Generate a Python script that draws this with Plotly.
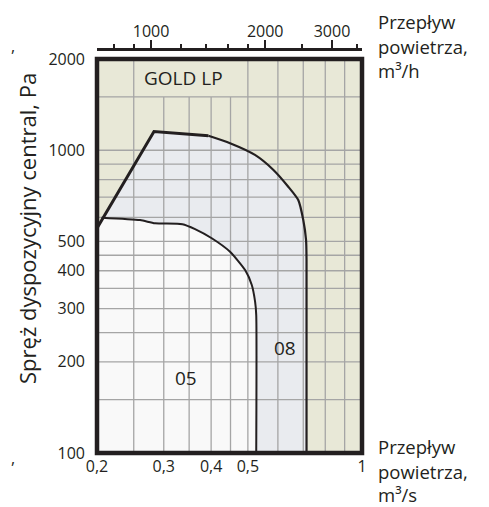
import numpy as np
import plotly.graph_objects as go

# ---------------- data ----------------
# GOLD LP 08 working envelope (air flow m3/s, available pressure Pa)
flow_08 = [0.2, 0.2827, 0.3934, 0.4487, 0.522, 0.584, 0.639, 0.679, 0.700, 0.712, 0.714, 0.714]
pres_08 = [553, 1153, 1116, 1055, 965, 861, 758, 685, 588, 505, 434, 100]
# GOLD LP 05 working envelope
flow_05 = [0.2057, 0.2598, 0.2845, 0.336, 0.3628, 0.4015, 0.4487, 0.4917, 0.512, 0.5224, 0.526, 0.526]
pres_05 = [599, 588, 574, 570, 549, 512, 462, 402, 359, 316, 286, 100]

# axes / ticks
x_ticks = [0.2, 0.3, 0.4, 0.5, 1.0]
x_ticktext = ["0,2", "0,3", "0,4", "0,5", "1"]
y_ticks = [100, 200, 300, 400, 500, 1000, 2000]
top_ticks = [1000, 2000, 3000]                       # m3/h
top_minor = [800, 900, 1200, 1400, 1600, 1800, 2500, 3500]
grid_x_full = [0.25, 0.5, 0.6, 0.7, 0.8, 0.9]
grid_x_short = [0.3, 0.35, 0.4, 0.45]               # stop at 1500 Pa (title space)
grid_y = [150, 200, 250, 300, 350, 400, 450, 500, 600, 700, 800, 900, 1000, 1500]

# ---------------- style ----------------
FONT = "Open Sans"
TXT = "#231f20"
BEIGE = "#e8e8d7"
LIGHT = "#e9ebef"
WHITE = "#f9f9f9"
GRID = "#a5a5a5"

x_min, x_max = x_ticks[0], x_ticks[-1]
y_min, y_max = y_ticks[0], y_ticks[-1]

fig = go.Figure()

# 08 fill
fig.add_trace(go.Scatter(x=[x_min] + flow_08, y=[y_min] + pres_08, fill="toself",
                         fillcolor=LIGHT, line=dict(width=0), mode="lines",
                         hoverinfo="skip", showlegend=False))
# 05 fill
fig.add_trace(go.Scatter(x=[x_min, x_min] + flow_05, y=[y_min, pres_08[0]] + pres_05, fill="toself",
                         fillcolor=WHITE, line=dict(width=0), mode="lines",
                         hoverinfo="skip", showlegend=False))

# grid lines as traces (so they sit above the fills)
gx, gy = [], []
for v in grid_x_full:
    gx += [v, v, None]; gy += [y_min, y_max, None]
for v in grid_x_short:
    gx += [v, v, None]; gy += [y_min, grid_y[-1], None]
for v in grid_y:
    gx += [x_min, x_max, None]; gy += [v, v, None]
fig.add_trace(go.Scatter(x=gx, y=gy, mode="lines", line=dict(color=GRID, width=1.3),
                         hoverinfo="skip", showlegend=False))

# outlines
fig.add_trace(go.Scatter(x=flow_08[:3], y=pres_08[:3], mode="lines",
                         line=dict(color=TXT, width=3), hoverinfo="skip", showlegend=False))
fig.add_trace(go.Scatter(x=flow_08[2:], y=pres_08[2:], mode="lines",
                         line=dict(color=TXT, width=2.2, shape="spline", smoothing=0.6),
                         hoverinfo="skip", showlegend=False))
fig.add_trace(go.Scatter(x=flow_05, y=pres_05, mode="lines",
                         line=dict(color=TXT, width=2, shape="spline", smoothing=0.6),
                         hoverinfo="skip", showlegend=False))

# invisible trace to activate top axis (m3/h)
fig.add_trace(go.Scatter(x=top_ticks, y=[y_min] * len(top_ticks), xaxis="x2", yaxis="y",
                         mode="markers", marker=dict(opacity=0), hoverinfo="skip",
                         showlegend=False))

# plot border
fig.add_shape(type="rect", xref="x domain", yref="y domain", x0=0, x1=1, y0=0, y1=1,
              line=dict(color=TXT, width=4.5), layer="above")

# the page body adds an 8px offset; size the figure so it fills the 489x507 window
OFF = 8
W, H = 489 - OFF, 507 - OFF
ML, MT = 97 - OFF, 49.3 - OFF
MR = W - (362 - OFF)
MB = H - (452.7 - OFF)
PH = H - MT - MB
ydom_top = (452.7 - 59.4) / PH

fig.update_layout(
    width=W, height=H,
    margin=dict(l=ML, r=MR, t=MT, b=MB, pad=0, autoexpand=False),
    paper_bgcolor="white", plot_bgcolor=BEIGE,
    font=dict(family=FONT, color=TXT, size=16),
    xaxis=dict(type="log", range=[np.log10(x_min), np.log10(x_max)], automargin=False,
               tickvals=x_ticks, ticktext=x_ticktext, showgrid=False, zeroline=False,
               showline=False, ticks="", ticklabelstandoff=2,
               tickfont=dict(size=16, family=FONT, color=TXT)),
    yaxis=dict(type="log", range=[np.log10(y_min), np.log10(y_max)], domain=[0, ydom_top],
               automargin=False,
               tickvals=y_ticks, ticktext=[str(v) for v in y_ticks], showgrid=False,
               zeroline=False, showline=False, ticks="", ticklabelstandoff=11,
               tickfont=dict(size=16, family=FONT, color=TXT)),
    xaxis2=dict(type="log", overlaying="x", side="top", anchor="free", position=1,
                automargin=False,
                range=[np.log10(x_min * 3600), np.log10(x_max * 3600)],
                tickvals=top_ticks, ticktext=[str(v) for v in top_ticks],
                showgrid=False, zeroline=False, showline=True, linecolor=TXT, linewidth=3,
                ticks="outside", ticklen=8, tickwidth=2, tickcolor=TXT,
                minor=dict(tickvals=top_minor, ticks="outside", ticklen=4, tickwidth=2,
                           tickcolor=TXT, showgrid=False),
                ticklabelstandoff=-3,
                tickfont=dict(size=16, family=FONT, color=TXT)),
    showlegend=False,
)

# positions below are given in reference-picture pixels
def px(x):
    return (x - 97) / (362 - 97)
def py(y):
    return (452.7 - y) / PH

ann = [
    dict(text="GOLD LP", x=px(183), y=py(78), size=19, xanchor="center"),
    dict(text="05", x=px(186), y=py(378), size=19, xanchor="center"),
    dict(text="08", x=px(285), y=py(348), size=19, xanchor="center"),
    dict(text="Przepływ", x=px(376), y=py(22), size=18.5, xanchor="left"),
    dict(text="powietrza,", x=px(376), y=py(47), size=18.5, xanchor="left"),
    dict(text="m³/h", x=px(376), y=py(71), size=18.5, xanchor="left"),
    dict(text="Przepływ", x=px(376), y=py(446), size=18.5, xanchor="left"),
    dict(text="powietrza,", x=px(376), y=py(471), size=18.5, xanchor="left"),
    dict(text="m³/s", x=px(376), y=py(494), size=18.5, xanchor="left"),
    dict(text=",", x=px(13), y=py(46), size=16, xanchor="center"),
    dict(text=",", x=px(13), y=py(458), size=16, xanchor="center"),
]
for a in ann:
    fig.add_annotation(text=a["text"], x=a["x"], y=a["y"], xref="paper", yref="paper",
                       xanchor=a["xanchor"], yanchor="middle", showarrow=False, align="left",
                       font=dict(size=a["size"], family=FONT, color=TXT))

fig.add_annotation(text="Spręż dyspozycyjny central, Pa", textangle=-90,
                   x=px(27), y=py(229), xref="paper", yref="paper", showarrow=False,
                   xanchor="center", yanchor="middle",
                   font=dict(size=22, family=FONT, color=TXT))

fig.write_html("out.html")
